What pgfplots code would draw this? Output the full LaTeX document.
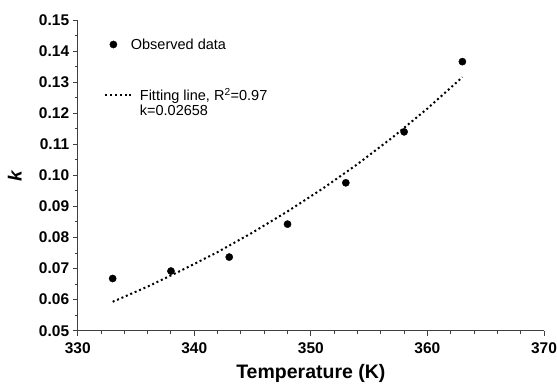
\documentclass[border=0pt]{standalone}
\usepackage{fontspec}
\setmainfont{Liberation Sans}
\usepackage{pgfplots}
\pgfplotsset{compat=1.18}
\pgfplotsset{
  dotleg/.style={legend image code/.code={\path (0pt,0pt) (27pt,0pt); \draw[##1] plot coordinates {(8pt,0pt)};}},
  lineleg/.style={legend image code/.code={\draw[##1] (0pt,0pt) -- (27pt,0pt);}},
}
\begin{document}
\begin{tikzpicture}[x=1pt,y=1pt]
\path[use as bounding box] (-77.7,-53.3) rectangle (479.3,330.7);
\begin{axis}[
  at={(0,0)}, anchor=south west,
  scale only axis, width=466.3pt, height=310.7pt,
  xmin=330, xmax=370, ymin=0.05, ymax=0.15,
  axis x line*=bottom, axis y line*=left,
  axis line style={line width=1.2pt, color=black!75},
  xtick={330,340,350,360,370},
  ytick={0.05,0.06,0.07,0.08,0.09,0.10,0.11,0.12,0.13,0.14,0.15},
  minor x tick num=4, minor y tick num=1,
  tick align=outside,
  major tick length=5pt, minor tick length=3pt,
  every tick/.style={line width=1pt, color=black!75},
  tick label style={font=\bfseries\fontsize{15.5}{15.5}\selectfont},
  /pgf/number format/assume math mode=true,
  yticklabel style={/pgf/number format/fixed, /pgf/number format/fixed zerofill, /pgf/number format/precision=2},
  xticklabel style={/pgf/number format/1000 sep={}, yshift=-3pt},
  xlabel={Temperature (K)},
  xlabel style={font=\bfseries\fontsize{19.5}{19.5}\selectfont, at={(axis description cs:0.5,-0.136)}, anchor=center},
  ylabel={\textit{k}},
  ylabel style={font=\bfseries\fontsize{19}{19}\selectfont, at={(axis description cs:-0.135,0.5)}, anchor=center},
  legend style={at={(axis description cs:0.0504,0.954)}, anchor=north west, draw=none, fill=none,
    font=\fontsize{14.5}{15}\selectfont, row sep=34pt},
  legend cell align=left,
  clip=false,
]
\addplot[only marks, mark=*, mark size=3.6pt, color=black, dotleg] coordinates {
 (333,0.0668) (338,0.0692) (343,0.0737) (348,0.0843) (353,0.0976) (358,0.1140) (363,0.1366)
};
\addlegendentry{\hspace*{-4.5pt}Observed data}
\addplot[no marks, color=black, line width=2pt, dash pattern=on 2pt off 2.8pt, lineleg] coordinates {
 (333,0.0593) (336,0.0642) (339,0.0696) (342,0.0753) (345,0.0816) (348,0.0884)
 (351,0.0957) (354,0.1036) (357,0.1122) (360,0.1215) (363,0.1316)
};
\addlegendentry{\hspace*{4.5pt}\raisebox{0pt}[\height][0pt]{\begin{tabular}[t]{@{}l@{}}Fitting line, R\textsuperscript{2}=0.97\\[0pt]k=0.02658\end{tabular}}}
\end{axis}
\end{tikzpicture}
\end{document}
